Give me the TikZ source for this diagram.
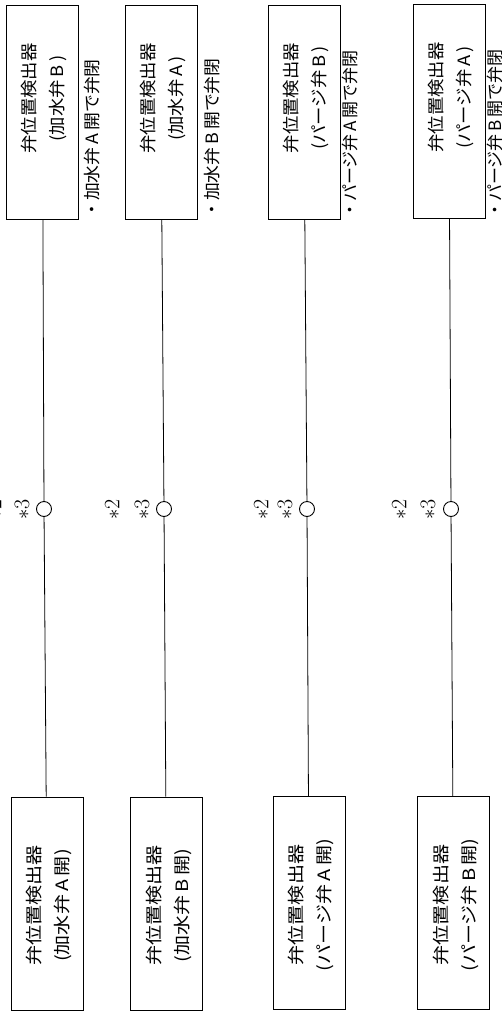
\documentclass[tikz,border=0pt]{standalone}
\usepackage{fontspec,graphicx}
\newfontfamily\jpfont{Noto Sans CJK JP}
\usetikzlibrary{positioning,calc}
\newcommand{\stretchtxt}[2][1.1]{\scalebox{#1}[1]{#2}}
\tikzset{det/.style={draw,line width=1pt,rotate=90,minimum width=214pt,minimum height=72pt,inner sep=0pt},
 dtxt/.style={rotate=90,align=center,font=\jpfont\fontsize{17}{28}\selectfont,inner sep=0pt},
 note/.style={rotate=90,anchor=west,font=\jpfont\fontsize{17}{20}\selectfont,inner sep=0pt},
 sw/.style={draw,circle,minimum size=15pt,inner sep=0pt,line width=0.9pt},
 star/.style={rotate=90,font=\fontsize{22}{26}\selectfont,inner sep=0pt},
 wire/.style={line width=0.8pt}}

\begin{document}
\begin{tikzpicture}[x=1pt,y=-1pt]
\clip (0,0) rectangle (502,1012);
% upper detectors
\node[det](t1) at (42.5,112.5){};\node[det](t2) at (161,112.5){};
\node[det](t3) at (304,112){};\node[det](t4) at (449,111.5){};
\node[dtxt] at ($(t1)+(1.5,-14)$){\stretchtxt[1.08]{弁位置検出器}\\\stretchtxt[1.08]{(加水弁\,B\,)}};
\node[dtxt] at ($(t2)+(1.5,-14)$){\stretchtxt[1.08]{弁位置検出器}\\\stretchtxt[1.08]{(加水弁\,A\,)}};
\node[dtxt] at ($(t3)+(1.5,-14)$){\stretchtxt[1.08]{弁位置検出器}\\\stretchtxt[1.08]{(パージ弁\,B\,)}};
\node[dtxt] at ($(t4)+(1.5,-14)$){\stretchtxt[1.08]{弁位置検出器}\\\stretchtxt[1.08]{(パージ弁\,A\,)}};
\node[note] at (92.5,219){\stretchtxt[1.05]{・加水弁\,A\,開で弁閉}};
\node[note] at (212,219){\stretchtxt[1.05]{・加水弁\,B\,開で弁閉}};
\node[note] at (350,219){\stretchtxt[1.0]{・パージ弁\,A\,開で弁閉}};
\node[note] at (495,219){\stretchtxt[1.0]{・パージ弁\,B\,開で弁閉}};
% contacts
\node[sw](c1) at (44,509){};\node[sw](c2) at (164,509){};
\node[sw](c3) at (307,509){};\node[sw](c4) at (451,509){};
\node[star] at (-6,509.5){$\ast$2};\node[star] at (22,509.5){$\ast$3};
\node[star] at (112,509.5){$\ast$2};\node[star] at (142,509.5){$\ast$3};
\node[star] at (261,509.5){$\ast$2};\node[star] at (285,509.5){$\ast$3};
\node[star] at (399,509.5){$\ast$2};\node[star] at (428,509.5){$\ast$3};
% lower detectors
\node[det,minimum width=213pt](b1) at (47,903.5){};\node[det,minimum width=213pt](b2) at (166.5,903.5){};
\node[det,minimum width=213pt](b3) at (309,903){};\node[det,minimum width=213pt](b4) at (453.5,903){};
\node[dtxt] at ($(b1)+(2,2)$){\stretchtxt[1.18]{弁位置検出器}\\\stretchtxt[1.18]{(加水弁\,A\,開)}};
\node[dtxt] at ($(b2)+(2,2)$){\stretchtxt[1.18]{弁位置検出器}\\\stretchtxt[1.18]{(加水弁\,B\,開)}};
\node[dtxt] at ($(b3)+(2,2)$){\stretchtxt[1.18]{弁位置検出器}\\\stretchtxt[1.18]{(パージ弁\,A\,開)}};
\node[dtxt] at ($(b4)+(2,2)$){\stretchtxt[1.18]{弁位置検出器}\\\stretchtxt[1.18]{(パージ弁\,B\,開)}};
\draw[wire](t1)--(c1)--(b1);\draw[wire](t2)--(c2)--(b2);
\draw[wire](t3)--(c3)--(b3);\draw[wire](t4)--(c4)--(b4);
\end{tikzpicture}
\end{document}
